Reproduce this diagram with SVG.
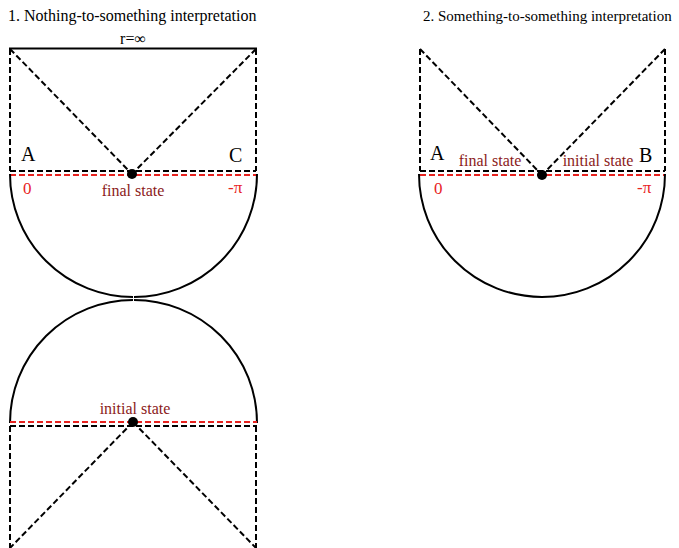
<svg xmlns="http://www.w3.org/2000/svg" width="679" height="548" viewBox="0 0 679 548">
<style>
.t{font-family:"Liberation Serif",serif;fill:#000}
.title{font-size:16px}
.lbl{font-size:20px}
.red{font-family:"Liberation Serif",serif;fill:#e8231f;font-size:17px}
.dk{font-family:"Liberation Serif",serif;fill:#8b1a1a;font-size:16px}
.sol{stroke:#000;stroke-width:2;fill:none}
.dash{stroke:#000;stroke-width:2;fill:none;stroke-dasharray:6,3}
.rdash{stroke:#e8231f;stroke-width:2;fill:none;stroke-dasharray:6,3}
</style>
<rect width="679" height="548" fill="#fff"/>
<text class="t title" x="8" y="21">1. Nothing-to-something interpretation</text>
<text class="t" x="423" y="21" font-size="15">2. Something-to-something interpretation</text>
<g id="diagram1-top">
<line class="sol" x1="9" y1="48.5" x2="257" y2="48.5"/>
<text class="t" x="133" y="44" font-size="16" text-anchor="middle">r=∞</text>
<line class="dash" x1="10" y1="49" x2="10" y2="171"/>
<line class="dash" x1="256" y1="49" x2="256" y2="171"/>
<line class="dash" x1="10" y1="171" x2="256" y2="171"/>
<line class="rdash" x1="10" y1="175" x2="256" y2="175"/>
<path class="sol" d="M10 174 A123 123 0 0 0 133 297"/>
<path class="sol" d="M134 297 A123 123 0 0 0 257 174"/>
<circle cx="132" cy="174" r="5" fill="#000"/>
<text class="t lbl" x="21" y="161">A</text>
<text class="t lbl" x="229" y="162">C</text>
<text class="red" x="23" y="194">0</text>
<text class="red" x="228" y="193">-π</text>
<text class="dk" x="133" y="196" text-anchor="middle">final state</text>
</g>
<g id="diagram1-bottom">
<path class="sol" d="M10 423 A123 123 0 0 1 133 300"/>
<path class="sol" d="M134 300 A123 123 0 0 1 257 423"/>
<line class="rdash" x1="10" y1="422" x2="257" y2="422"/>
<line class="dash" x1="10" y1="426" x2="257" y2="426"/>
<line class="dash" x1="10" y1="426" x2="10" y2="548"/>
<line class="dash" x1="256" y1="426" x2="256" y2="548"/>
<circle cx="133" cy="422" r="5" fill="#000"/>
<text class="dk" x="135" y="414" text-anchor="middle">initial state</text>
</g>
<g id="diagram2">
<line class="dash" x1="420" y1="49" x2="420" y2="171"/>
<line class="dash" x1="665" y1="49" x2="665" y2="171"/>
<line class="dash" x1="420" y1="171" x2="665" y2="171"/>
<line class="rdash" x1="420" y1="175" x2="665" y2="175"/>
<path class="sol" d="M419 174 A123 123 0 0 0 665 174"/>
<circle cx="542" cy="175" r="5" fill="#000"/>
<text class="t lbl" x="430" y="160">A</text>
<text class="t lbl" x="639" y="162">B</text>
<text class="red" x="434" y="194">0</text>
<text class="red" x="637" y="193">-π</text>
<text class="dk" x="490" y="166" text-anchor="middle">final state</text>
<text class="dk" x="598" y="166" text-anchor="middle">initial state</text>
</g>
<g id="connectors">
<line class="dash" x1="10" y1="49" x2="132" y2="174"/>
<line class="dash" x1="256" y1="49" x2="132" y2="174"/>
<line class="dash" x1="133" y1="422" x2="10" y2="548"/>
<line class="dash" x1="133" y1="422" x2="256" y2="548"/>
<line class="dash" x1="420" y1="49" x2="542" y2="175"/>
<line class="dash" x1="665" y1="49" x2="542" y2="175"/>
</g>
</svg>
